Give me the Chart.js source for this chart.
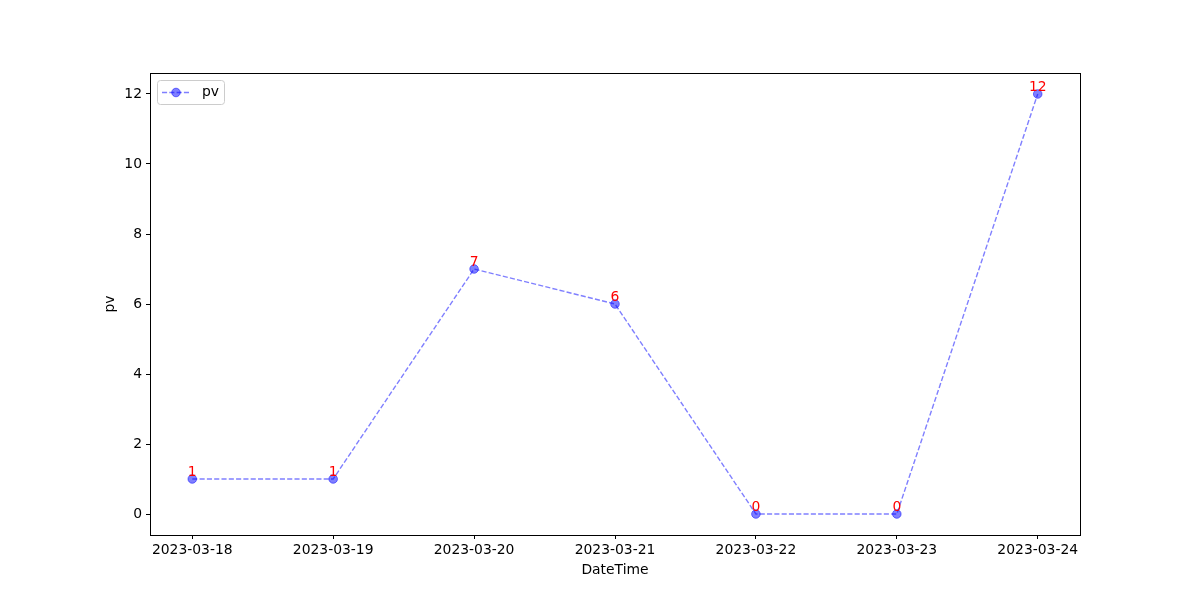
<html>
  <head>
    <title>pv</title>
    <style>
      body { margin: 0; background: #fff; }
      #wrap { width: 1200px; height: 600px; }
    </style>
  </head>
  <body>
    <div id="wrap"><canvas id="myChart" width="1200" height="600"></canvas></div>
  </body>
</html>

<script src="https://cdn.jsdelivr.net/npm/chart.js"></script>
<script>
  var dates = ['2023-03-18', '2023-03-19', '2023-03-20', '2023-03-21', '2023-03-22', '2023-03-23', '2023-03-24'];
  var pvValues = [1, 1, 7, 6, 0, 0, 12];
  var yTicks = [0, 2, 4, 6, 8, 10, 12];

  var blue = 'rgba(0, 0, 255, 0.5)';
  var font = 'DejaVu Sans';

  // frame on all four sides plus the axis titles, like matplotlib
  const frame = {
    id: 'frame',
    afterDraw(chart) {
      const c = chart.ctx, a = chart.chartArea;
      c.save();
      c.strokeStyle = '#000';
      c.lineWidth = 1;
      c.strokeRect(Math.round(a.left) + 0.5, Math.round(a.top) + 0.5, Math.round(a.right - a.left), Math.round(a.bottom - a.top));
      c.fillStyle = '#000';
      c.font = '13.9px "' + font + '"';
      c.textAlign = 'center';
      c.textBaseline = 'middle';
      c.fillText('DateTime', (a.left + a.right) / 2, a.bottom + 35);
      c.translate(a.left - 40, (a.top + a.bottom) / 2);
      c.rotate(-Math.PI / 2);
      c.fillText('pv', 0, 0);
      c.restore();
    }
  };

  // red value labels above each point
  const valueLabels = {
    id: 'valueLabels',
    afterDatasetsDraw(chart) {
      const c = chart.ctx;
      const meta = chart.getDatasetMeta(0);
      c.save();
      c.fillStyle = 'red';
      c.font = '13.9px "' + font + '"';
      c.textAlign = 'center';
      c.textBaseline = 'alphabetic';
      meta.data.forEach(function (pt, i) {
        c.fillText(String(pvValues[i]), pt.x, pt.y - 3);
      });
      c.restore();
    }
  };

  // legend box in the upper left corner
  const legendBox = {
    id: 'legendBox',
    afterDraw(chart) {
      const c = chart.ctx, a = chart.chartArea;
      const x = a.left + 7, y = a.top + 7, w = 67, h = 24, r = 3;
      c.save();
      c.beginPath();
      c.roundRect(x + 0.5, y + 0.5, w, h, r);
      c.fillStyle = 'rgba(255,255,255,0.8)';
      c.fill();
      c.strokeStyle = '#cccccc';
      c.lineWidth = 1;
      c.stroke();
      const my = y + h / 2 + 0.5;
      c.strokeStyle = blue;
      c.lineWidth = 1.4;
      c.setLineDash([5.1, 2.2]);
      c.beginPath();
      c.moveTo(x + 5, my);
      c.lineTo(x + 33, my);
      c.stroke();
      c.setLineDash([]);
      c.fillStyle = blue;
      c.lineWidth = 1;
      c.beginPath();
      c.arc(x + 19, my, 4.3, 0, Math.PI * 2);
      c.fill();
      c.stroke();
      c.fillStyle = '#000';
      c.font = '13.9px "' + font + '"';
      c.textBaseline = 'middle';
      c.fillText(chart.data.datasets[0].label, x + 45, my);
      c.restore();
    }
  };

  const ctx = document.getElementById('myChart').getContext('2d');
  const myChart = new Chart(ctx, {
    type: 'line',
    data: {
      datasets: [{
        label: 'pv',
        data: pvValues.map(function (v, i) { return { x: i, y: v }; }),
        borderColor: blue,
        backgroundColor: blue,
        borderWidth: 1.4,
        borderDash: [5.1, 2.2],
        pointRadius: 4.3,
        pointBorderWidth: 1,
        pointBorderColor: blue,
        pointBackgroundColor: blue,
        tension: 0,
        fill: false
      }]
    },
    options: {
      responsive: false,
      animation: false,
      layout: { padding: { left: 0, right: 120, top: 73, bottom: 0 } },
      plugins: {
        legend: { display: false },
        tooltip: { enabled: false }
      },
      scales: {
        x: {
          type: 'linear',
          min: -0.3,
          max: 6.3,
          afterBuildTicks: function (scale) {
            scale.ticks = dates.map(function (d, i) { return { value: i }; });
          },
          afterFit: function (scale) { scale.height = 65; },
          grid: { drawOnChartArea: false, drawTicks: true, tickLength: 4, color: '#000' },
          border: { display: true, color: '#000' },
          ticks: {
            color: '#000',
            padding: 3,
            maxRotation: 0,
            autoSkip: false,
            font: { family: font, size: 13.9 },
            callback: function (v) { return dates[v]; }
          }
        },
        y: {
          min: -0.6,
          max: 12.6,
          afterBuildTicks: function (scale) {
            scale.ticks = yTicks.map(function (v) { return { value: v }; });
          },
          afterFit: function (scale) { scale.width = 150; },
          grid: { drawOnChartArea: false, drawTicks: true, tickLength: 4, color: '#000' },
          border: { display: true, color: '#000' },
          ticks: {
            color: '#000',
            padding: 4,
            font: { family: font, size: 13.9 }
          }
        }
      }
    },
    plugins: [frame, valueLabels, legendBox]
  });
</script>
